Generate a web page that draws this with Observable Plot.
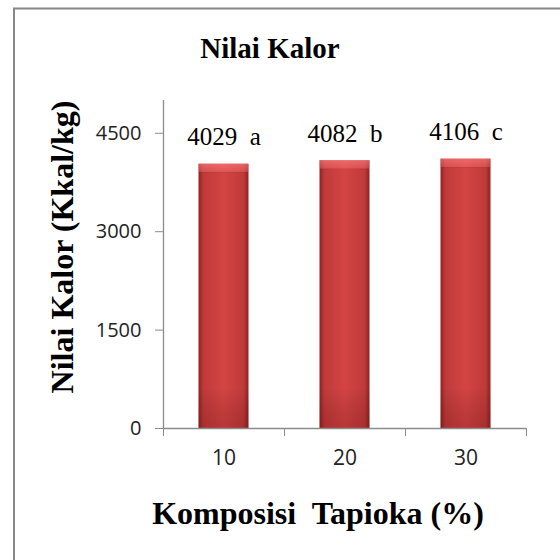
<!DOCTYPE html>
<html>
<head>
<meta charset="utf-8">
<script src="https://cdn.jsdelivr.net/npm/d3@7"></script>
<script src="https://cdn.jsdelivr.net/npm/@observablehq/plot@0.6"></script>
<style>
  body { margin: 0; background: #fff; }
  #chart { position: relative; width: 560px; height: 560px; }
</style>
</head>
<body>
<div id="chart"></div>
<script>
const categories = ["10", "20", "30"];
const values = [4029, 4082, 4106];
const letters = ["a", "b", "c"];
const yTicks = [0, 1500, 3000, 4500];

const data = categories.map((c, i) => ({ i, cat: c, value: values[i], label: values[i] + "\u00a0\u00a0" + letters[i] }));

const serif = "'Liberation Serif', 'Times New Roman', serif";
const sans = "'Open Sans', 'Liberation Sans', sans-serif";

const plot = Plot.plot({
  width: 560,
  height: 560,
  marginLeft: 163,
  marginRight: 34,
  marginTop: 100,
  marginBottom: 132,
  style: { background: "transparent", overflow: "visible" },
  x: { type: "linear", domain: [0, categories.length] },
  y: { domain: [0, 5000] },
  marks: [
    Plot.rectY(data, { x1: d => d.i, x2: d => d.i + 1, y: "value", insetLeft: 35.5, insetRight: 35.5, fill: "url(#barGrad)" }),
    Plot.rectY(data, { x1: d => d.i, x2: d => d.i + 1, y: "value", insetLeft: 35.5, insetRight: 35.5, fill: "url(#barVGrad)" }),
    Plot.text(data, { x: d => d.i + 0.5, y: "value", text: "label", dy: -19, fontSize: 25, fontFamily: serif, fill: "#000", lineAnchor: "bottom" }),
    Plot.ruleX([0], { stroke: "#8c8c8c", strokeWidth: 1.3 }),
    Plot.ruleY([0], { stroke: "#8c8c8c", strokeWidth: 1.3 }),
    Plot.axisY({ ticks: yTicks, tickSize: 8, tickPadding: 14, tickFormat: d3.format("d"), stroke: "#8c8c8c", fontSize: 20, fontFamily: sans, fill: "#222", label: null }),
    Plot.axisX({ ticks: d3.range(categories.length + 1), tickSize: 8, tickFormat: () => "", stroke: "#8c8c8c", label: null }),
    Plot.axisX({ ticks: d3.range(categories.length).map(i => i + 0.5), tickSize: 0, tickPadding: 22, tickFormat: v => categories[Math.floor(v)], fontSize: 21, fontFamily: sans, fill: "#222", label: null })
  ]
});

const svg = d3.select(plot);
const defs = svg.insert("defs", ":first-child");
const g = defs.append("linearGradient").attr("id", "barGrad").attr("x1", "0").attr("x2", "1").attr("y1", "0").attr("y2", "0");
[[0, "#8e2222"], [0.1, "#c03a3a"], [0.5, "#d44444"], [0.9, "#c03a3a"], [1, "#8e2222"]].forEach(([o, c]) => g.append("stop").attr("offset", o).attr("stop-color", c));
const gv = defs.append("linearGradient").attr("id", "barVGrad").attr("x1", "0").attr("x2", "0").attr("y1", "0").attr("y2", "1");
[[0, "rgba(255,130,130,0.6)"], [0.03, "rgba(255,120,120,0.35)"], [0.035, "rgba(0,0,0,0)"], [0.85, "rgba(0,0,0,0)"], [1, "rgba(80,0,0,0.2)"]].forEach(([o, c]) => gv.append("stop").attr("offset", o).attr("stop-color", c));

// chart border
svg.insert("rect", "defs + *").attr("x", 14).attr("y", 8.5).attr("width", 560).attr("height", 560).attr("fill", "none").attr("stroke", "#888").attr("stroke-width", 2);

function addText(x, y, size, txt, transform) {
  const t = svg.append("text").attr("text-anchor", "middle")
    .style("font-family", serif).style("font-weight", "bold").style("font-size", size + "px")
    .attr("fill", "#000").text(txt);
  if (transform) t.attr("transform", transform); else t.attr("x", x).attr("y", y);
  return t;
}
// title
addText(270, 58, 29, "Nilai Kalor");
// x axis title
addText(318, 524, 32, "Komposisi\u00a0 Tapioka (%)");
// y axis title
addText(0, 0, 32, "Nilai Kalor (Kkal/kg)", "translate(73,247) rotate(-90)");

document.getElementById("chart").appendChild(plot);
</script>
</body>
</html>
